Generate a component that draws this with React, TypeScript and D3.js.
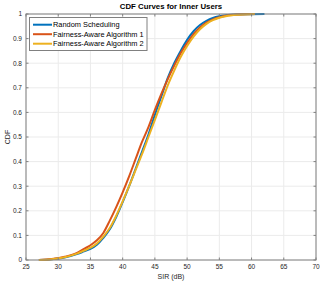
import React from "react";
import * as d3 from "d3";

const sirRandom = [27, 29, 31, 33, 34, 35, 36, 37, 38, 39, 40, 41, 42, 43, 44, 45, 46, 47, 48, 49, 50, 51, 52, 53, 54, 55, 56, 58, 60, 62];
const cdfRandom = [0, 0.003, 0.01, 0.025, 0.035, 0.045, 0.062, 0.09, 0.125, 0.175, 0.235, 0.3, 0.37, 0.44, 0.51, 0.59, 0.665, 0.74, 0.8, 0.85, 0.895, 0.93, 0.955, 0.972, 0.984, 0.991, 0.995, 0.998, 0.999, 1];

const sirAlg1 = [27, 29, 31, 33, 34, 35, 36, 37, 38, 39, 40, 41, 42, 43, 44, 45, 46, 47, 48, 49, 50, 51, 52, 53, 54, 55, 56, 58, 60.5];
const cdfAlg1 = [0, 0.004, 0.013, 0.03, 0.045, 0.06, 0.08, 0.11, 0.16, 0.215, 0.275, 0.34, 0.41, 0.48, 0.54, 0.61, 0.675, 0.735, 0.79, 0.84, 0.882, 0.918, 0.945, 0.965, 0.978, 0.987, 0.993, 0.998, 1];

const sirAlg2 = [27, 29, 31, 33, 34, 35, 36, 37, 38, 39, 40, 41, 42, 43, 44, 45, 46, 47, 48, 49, 50, 51, 52, 53, 54, 55, 56, 58, 60.5];
const cdfAlg2 = [0, 0.003, 0.011, 0.027, 0.038, 0.05, 0.067, 0.095, 0.13, 0.18, 0.238, 0.3, 0.365, 0.43, 0.5, 0.57, 0.64, 0.71, 0.77, 0.825, 0.87, 0.908, 0.938, 0.96, 0.975, 0.985, 0.991, 0.997, 1];

const seriesNames = ["Random Scheduling", "Fairness-Aware Algorithm 1", "Fairness-Aware Algorithm 2"];
const seriesColors = ["#0072BD", "#D95319", "#EDB120"];
const xTicks = [25, 30, 35, 40, 45, 50, 55, 60, 65, 70];
const yTicks = [0, 0.1, 0.2, 0.3, 0.4, 0.5, 0.6, 0.7, 0.8, 0.9, 1];

export default function App() {
  const W = 322, H = 285;
  const L = 26, R = 316, T = 14, B = 260;
  const x = d3.scaleLinear().domain([25, 70]).range([L, R]);
  const y = d3.scaleLinear().domain([0, 1]).range([B, T]);
  const line = d3
    .line<[number, number]>()
    .x((d) => x(d[0]))
    .y((d) => y(d[1]))
    .curve(d3.curveMonotoneX);
  const series = [
    sirRandom.map((s, i) => [s, cdfRandom[i]] as [number, number]),
    sirAlg1.map((s, i) => [s, cdfAlg1[i]] as [number, number]),
    sirAlg2.map((s, i) => [s, cdfAlg2[i]] as [number, number]),
  ];
  const font = "'Liberation Sans', Arial, Helvetica, sans-serif";
  const axisColor = "#808080";
  const textColor = "#262626";
  const tickLen = 2.5;
  return (
    <svg width={W} height={H} style={{ position: "absolute", left: 0, top: 0 }} fontFamily={font}>
      <rect x={0} y={0} width={W} height={H} fill="#fff" />
      {xTicks.map((t) => (
        <line key={"gx" + t} x1={x(t)} x2={x(t)} y1={T} y2={B} stroke="#ebebeb" strokeWidth={1} />
      ))}
      {yTicks.map((t) => (
        <line key={"gy" + t} x1={L} x2={R} y1={y(t)} y2={y(t)} stroke="#ebebeb" strokeWidth={1} />
      ))}
      {series.map((s, i) => (
        <path key={"s" + i} d={line(s) || ""} fill="none" stroke={seriesColors[i]} strokeWidth={2} />
      ))}
      <rect x={L} y={T} width={R - L} height={B - T} fill="none" stroke={axisColor} strokeWidth={1} />
      {xTicks.map((t) => (
        <g key={"tx" + t}>
          <line x1={x(t)} x2={x(t)} y1={B} y2={B - tickLen} stroke={axisColor} />
          <line x1={x(t)} x2={x(t)} y1={T} y2={T + tickLen} stroke={axisColor} />
          <text x={x(t)} y={B + 8.5} fontSize={6.5} textAnchor="middle" fill={textColor}>{t}</text>
        </g>
      ))}
      {yTicks.map((t) => (
        <g key={"ty" + t}>
          <line x1={L} x2={L + tickLen} y1={y(t)} y2={y(t)} stroke={axisColor} />
          <line x1={R} x2={R - tickLen} y1={y(t)} y2={y(t)} stroke={axisColor} />
          <text x={L - 4} y={y(t) + 2.3} fontSize={6.5} textAnchor="end" fill={textColor}>{t}</text>
        </g>
      ))}
      <text x={(L + R) / 2} y={9} fontSize={7.8} fontWeight="bold" textAnchor="middle" fill="#000">CDF Curves for Inner Users</text>
      <text x={(L + R) / 2} y={279} fontSize={7} textAnchor="middle" fill={textColor}>SIR (dB)</text>
      <text transform={`translate(9.5, ${(T + B) / 2}) rotate(-90)`} fontSize={7} textAnchor="middle" fill={textColor}>CDF</text>
      <g>
        <rect x={29.5} y={17.5} width={117.5} height={33} fill="#fff" stroke={axisColor} strokeWidth={1} />
        {seriesNames.map((n, i) => (
          <g key={"lg" + i}>
            <line x1={33} x2={52} y1={24.7 + i * 9.5} y2={24.7 + i * 9.5} stroke={seriesColors[i]} strokeWidth={2} />
            <text x={53} y={24.7 + i * 9.5 + 2.6} fontSize={7.4} fill="#000">{n}</text>
          </g>
        ))}
      </g>
    </svg>
  );
}
